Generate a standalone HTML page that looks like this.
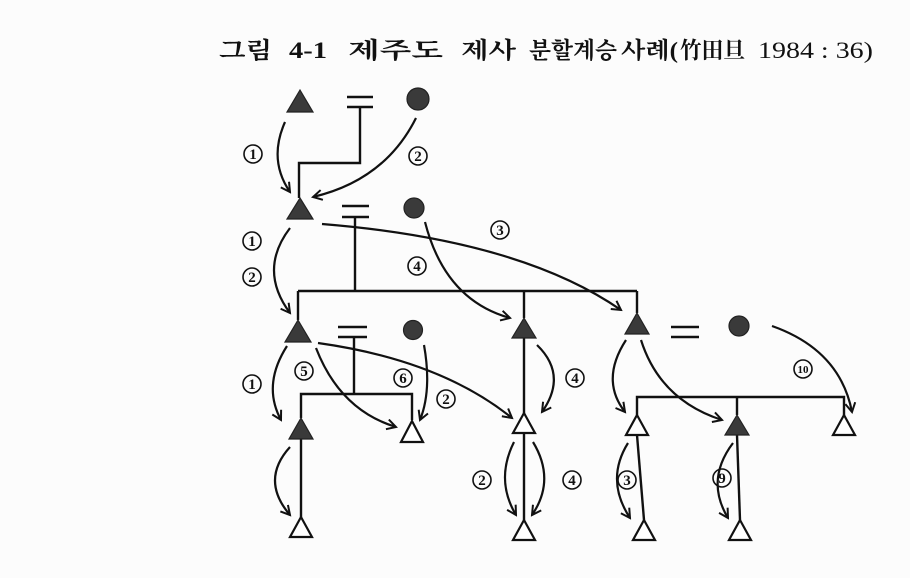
<!DOCTYPE html>
<html><head><meta charset="utf-8"><style>
html,body{margin:0;padding:0;background:#fcfcfc;}
svg{display:block;}
text{fill:#111;}
</style></head><body>
<svg width="910" height="578" viewBox="0 0 910 578" xmlns="http://www.w3.org/2000/svg">
<defs>
<marker id="a" viewBox="0 0 12 12" refX="10" refY="6" markerWidth="12" markerHeight="12" markerUnits="userSpaceOnUse" orient="auto">
<path d="M1,1 L10,6 L1,11" fill="none" stroke="#111" stroke-width="2"/>
</marker>
</defs>
<g font-size="23" font-weight="bold" font-family="Liberation Serif, Noto Serif CJK SC, serif">
<text x="219" y="58" textLength="53" lengthAdjust="spacingAndGlyphs">그림</text>
<text x="289" y="58" textLength="38" lengthAdjust="spacingAndGlyphs">4-1</text>
<text x="348" y="58" textLength="95" lengthAdjust="spacingAndGlyphs">제주도</text>
<text x="461" y="58" textLength="55" lengthAdjust="spacingAndGlyphs">제사</text>
<text x="529" y="58" textLength="88" lengthAdjust="spacingAndGlyphs">분할계승</text>
<text x="621" y="58" textLength="57" lengthAdjust="spacingAndGlyphs">사례(</text>
<text x="680" y="58" textLength="65" lengthAdjust="spacingAndGlyphs">竹田旦</text>
<text x="758" y="58" textLength="115" lengthAdjust="spacingAndGlyphs" font-weight="normal">1984 : 36)</text>
</g>

<g stroke="#111" stroke-width="2.4" fill="none">
<line x1="347" y1="97" x2="373" y2="97"/><line x1="347" y1="107" x2="373" y2="107"/>
<polyline points="360,107 360,163 299,163 299,198"/>
<line x1="342" y1="206" x2="369" y2="206"/><line x1="342" y1="217" x2="369" y2="217"/>
<line x1="355" y1="217" x2="355" y2="291"/>
<line x1="298" y1="291" x2="637" y2="291"/>
<line x1="298" y1="291" x2="298" y2="320"/>
<line x1="524" y1="291" x2="524" y2="318"/>
<line x1="637" y1="291" x2="637" y2="313"/>
<line x1="338" y1="327" x2="367" y2="327"/><line x1="338" y1="337" x2="367" y2="337"/>
<line x1="354" y1="337" x2="354" y2="394"/>
<polyline points="301,418 301,394 412,394 412,420"/>
<line x1="301" y1="439" x2="301" y2="517"/>
<line x1="524" y1="338" x2="524" y2="413"/>
<line x1="524" y1="433" x2="524" y2="520"/>
<line x1="671" y1="327" x2="699" y2="327"/><line x1="671" y1="337" x2="699" y2="337"/>
<polyline points="637,415 637,397 844,397 844,415"/>
<line x1="737" y1="397" x2="737" y2="415"/>
<line x1="637" y1="435" x2="644" y2="520"/>
<line x1="737" y1="435" x2="740" y2="520"/>
</g>

<g fill="#3a3a3a" stroke="#222" stroke-width="1.2">
<polygon points="300,90 313,112 287,112"/>
<circle cx="418" cy="99" r="11"/>
<polygon points="300,198 313,219 287,219"/>
<circle cx="414" cy="208" r="10"/>
<polygon points="298,320 311,342 285,342"/>
<circle cx="413" cy="330" r="9.5"/>
<polygon points="524,318 536,338 512,338"/>
<polygon points="637,313 649,334 625,334"/>
<circle cx="739" cy="326" r="10"/>
<polygon points="301,418 313,439 289,439"/>
<polygon points="737,415 749,435 725,435"/>
</g>
<g fill="#fff" stroke="#111" stroke-width="2.2">
<polygon points="412,421 423,442 401,442"/>
<polygon points="524,413 535,433 513,433"/>
<polygon points="637,415 648,435 626,435"/>
<polygon points="844,415 855,435 833,435"/>
<polygon points="301,517 312,537 290,537"/>
<polygon points="524,520 535,540 513,540"/>
<polygon points="644,520 655,540 633,540"/>
<polygon points="740,520 751,540 729,540"/>
</g>

<g stroke="#111" stroke-width="2.2" fill="none" marker-end="url(#a)">
<path d="M285,122 Q268,160 290,192"/>
<path d="M416,118 Q385,180 313,197"/>
<path d="M290,228 Q258,270 290,313"/>
<path d="M322,224 Q520,240 621,310"/>
<path d="M425,222 Q445,300 510,318"/>
<path d="M287,346 Q262,385 281,420"/>
<path d="M316,348 Q340,410 396,427"/>
<path d="M424,345 Q432,390 420,420"/>
<path d="M318,343 Q440,360 512,418"/>
<path d="M537,345 Q568,375 542,412"/>
<path d="M514,442 Q495,480 516,515"/>
<path d="M533,442 Q556,480 532,515"/>
<path d="M626,340 Q600,380 625,412"/>
<path d="M641,340 Q660,400 722,420"/>
<path d="M772,326 Q840,350 852,412"/>
<path d="M290,447 Q260,480 290,515"/>
<path d="M628,443 Q605,480 630,518"/>
<path d="M733,443 Q705,480 728,518"/>
</g>

<g fill="none" stroke="#111" stroke-width="1.6">
<circle cx="253" cy="154" r="9"/><circle cx="418" cy="156" r="9"/>
<circle cx="252" cy="241" r="9"/><circle cx="252" cy="277" r="9"/>
<circle cx="500" cy="230" r="9"/><circle cx="417" cy="266" r="9"/>
<circle cx="252" cy="384" r="9"/><circle cx="304" cy="371" r="9"/>
<circle cx="403" cy="378" r="9"/><circle cx="446" cy="399" r="9"/>
<circle cx="575" cy="378" r="9"/><circle cx="482" cy="480" r="9"/>
<circle cx="572" cy="480" r="9"/><circle cx="803" cy="369" r="9"/>
<circle cx="627" cy="480" r="9"/><circle cx="722" cy="478" r="9"/>
</g>
<g font-size="15" font-weight="bold" text-anchor="middle" font-family="Liberation Serif, serif">
<text x="253" y="159">1</text>
<text x="418" y="161">2</text>
<text x="252" y="246">1</text>
<text x="252" y="282">2</text>
<text x="500" y="235">3</text>
<text x="417" y="271">4</text>
<text x="252" y="389">1</text>
<text x="304" y="376">5</text>
<text x="403" y="383">6</text>
<text x="446" y="404">2</text>
<text x="575" y="383">4</text>
<text x="482" y="485">2</text>
<text x="572" y="485">4</text>
<text x="803" y="373" font-size="11">10</text>
<text x="627" y="485">3</text>
<text x="722" y="483">9</text>
</g>
</svg>
</body></html>
